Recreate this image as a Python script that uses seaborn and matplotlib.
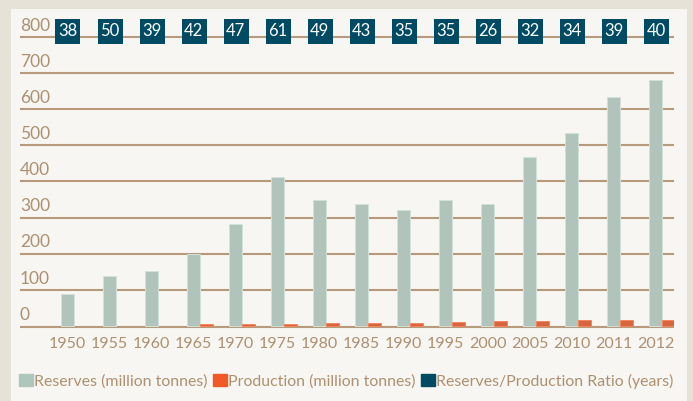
import seaborn as sns
import matplotlib.pyplot as plt
import pandas as pd
import numpy as np
from matplotlib.patches import Patch, Rectangle

# Data
years = ['1950', '1955', '1960', '1965', '1970', '1975', '1980', '1985',
         '1990', '1995', '2000', '2005', '2010', '2011', '2012']
reserves = [89, 138, 152, 199, 282, 413, 349, 338, 321, 349, 338, 468, 535, 634, 681]
production = [0, 0, 0, 4.7, 6.0, 6.8, 7.1, 7.9, 9.2, 10.0, 13.0, 14.6, 15.7, 16.3, 17.0]
ratio = [38, 50, 39, 42, 47, 61, 49, 43, 35, 35, 26, 32, 34, 39, 40]

GREEN = '#adc7bc'
ORANGE = '#f15a24'
TEAL = '#004a63'
TAN = '#ad906f'
GRID = '#b69a7b'

sns.set_theme(style="white")
plt.rcParams['font.family'] = ['Lato', 'DejaVu Sans']

df = pd.DataFrame({
    'year': years * 2,
    'value': reserves + production,
    'series': ['Reserves (million tonnes)'] * len(years) + ['Production (million tonnes)'] * len(years),
})

W, H = 693, 401
fig = plt.figure(figsize=(W / 100, H / 100), dpi=100, facecolor='#e6e2d8')
# inner light panel
fig.patches.append(Rectangle((11 / W, 0), 676 / W, (H - 9) / H, transform=fig.transFigure,
                             facecolor='#f8f6f2', edgecolor='none', zorder=-10))

ax = fig.add_axes([20 / W, (H - 330) / H, 654 / W, 320 / H])
ax.set_facecolor('none')
ax.set_zorder(2)

width = 0.62
sns.barplot(data=df, x='year', y='value', hue='series', palette=[GREEN, ORANGE],
            width=width, dodge=True, gap=0, ax=ax, legend=False, zorder=3,
            linewidth=0.7)
for p in ax.patches:
    fc = p.get_facecolor()
    p.set_edgecolor(tuple(min(1, c + 0.12) for c in fc[:3]))
    if p.get_height() == 0:
        p.set_visible(False)

off = width / 4
x = np.arange(len(years))
ax.set_xlim(-1.13 - off, 14.43 - off)
ax.set_ylim(-11, 874)

# gridlines
for v in range(0, 801, 100):
    ax.axhline(v - (3 if v == 0 else 0), color=GRID, lw=1.5, zorder=1)
    ax.text(0, v + 9, str(v), transform=ax.get_yaxis_transform(), ha='left', va='bottom',
            fontsize=12.5, color=TAN)

# ratio boxes
ax.scatter(x - off, [817] * len(x), marker='s', s=(25 * 0.72) ** 2, color=TEAL,
           zorder=5, linewidths=0, clip_on=False)
for xi, r in zip(x, ratio):
    ax.text(xi - off, 817, str(r), ha='center', va='center', color='white',
            fontsize=12, zorder=6)

ax.set_xticks(x - off)
ax.set_xticklabels(years, fontsize=11.5, color=TAN)
ax.tick_params(axis='x', length=0, pad=5)
ax.set_yticks([])
ax.set_xlabel('')
ax.set_ylabel('')
sns.despine(ax=ax, left=True, bottom=True)

handles = [Patch(color=GREEN), Patch(color=ORANGE), Patch(color=TEAL)]
labels = ['Reserves (million tonnes)', 'Production (million tonnes)',
          'Reserves/Production Ratio (years)']
fig.legend(handles, labels, loc='center left', bbox_to_anchor=(5 / W, 1 - 381 / H),
           ncol=3, frameon=False, handlelength=0.85, handleheight=0.85,
           handletextpad=0.1, columnspacing=0.35, labelcolor=TAN, fontsize=11.4)

fig.savefig('out.png', dpi=100, facecolor=fig.get_facecolor())
